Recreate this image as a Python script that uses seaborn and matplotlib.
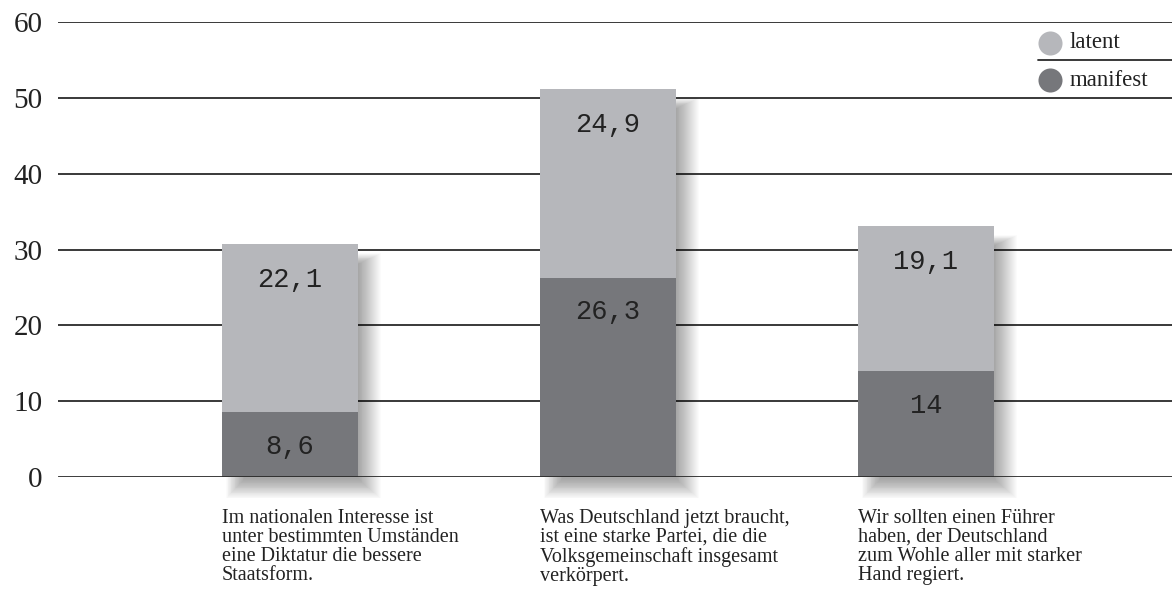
import matplotlib
matplotlib.use("Agg")
import matplotlib.pyplot as plt
import seaborn as sns
import pandas as pd
import numpy as np

# ---- data ----
categories = [
    "Im nationalen Interesse ist\nunter bestimmten Umständen\neine Diktatur die bessere\nStaatsform.",
    "Was Deutschland jetzt braucht,\nist eine starke Partei, die die\nVolksgemeinschaft insgesamt\nverkörpert.",
    "Wir sollten einen Führer\nhaben, der Deutschland\nzum Wohle aller mit starker\nHand regiert.",
]
manifest = [8.6, 26.3, 14.0]
latent = [22.1, 24.9, 19.1]
manifest_labels = ["8,6", "26,3", "14"]
latent_labels = ["22,1", "24,9", "19,1"]
yticks = [0, 10, 20, 30, 40, 50, 60]
series_names = ["latent", "manifest"]

C_LAT = "#b6b7bb"
C_MAN = "#76777b"
TXT = "#222222"

sns.set_theme(style="white")
plt.rcParams["font.family"] = ["Liberation Serif", "DejaVu Serif"]

df = pd.DataFrame({
    "cat": [f"c{i}" for i in range(len(categories))],
    "manifest": manifest,
    "latent": latent,
})
df["total"] = df["manifest"] + df["latent"]

fig = plt.figure(figsize=(11.72, 5.92), dpi=100)
ax = fig.add_axes([58 / 1172, 115 / 592, 1114 / 1172, 455 / 592])

W = 0.428

# soft drop shadows (derived from data)
x = np.arange(len(df))
N = 24
for k in range(N):
    left = x - W / 2 + 0.07 - k * 0.0025
    right = x + W / 2 + 0.002 + k * 0.003
    bottom = -0.3 - k * 0.11
    top = df["total"].values - 2.6 + k * 0.06
    ax.bar(left, top - bottom, width=right - left, bottom=bottom, align="edge",
           color="black", alpha=0.015, linewidth=0, zorder=2, clip_on=False)

sns.barplot(data=df, x="cat", y="total", color=C_LAT, width=W, ax=ax,
            saturation=1, linewidth=0, zorder=3)
sns.barplot(data=df, x="cat", y="manifest", color=C_MAN, width=W, ax=ax,
            saturation=1, linewidth=0, zorder=4)

# value labels
for i in range(len(df)):
    ax.annotate(latent_labels[i], (i, df["total"][i]), xytext=(0, -26),
                textcoords="offset points", ha="center", va="center",
                fontsize=19.5, family="Liberation Mono", color=TXT, zorder=6)
    ax.annotate(manifest_labels[i], (i, df["manifest"][i]), xytext=(0, -25),
                textcoords="offset points", ha="center", va="center",
                fontsize=19.5, family="Liberation Mono", color=TXT, zorder=6)

ax.set_xlim(-0.7296, 2.774)
ax.set_ylim(0, 60)
ax.set_yticks(yticks)
ax.set_yticklabels([str(t) for t in yticks], fontsize=21, color=TXT)
ax.tick_params(axis="y", length=0, pad=11)
ax.set_xticks([])
ax.set_xlabel("")
ax.set_ylabel("")
for s in ax.spines.values():
    s.set_visible(False)

for t in yticks[1:]:
    ax.axhline(t, color="#2a2a2a", linewidth=1.3, zorder=1)
ax.axhline(0, color="#2a2a2a", linewidth=2.0, zorder=5)

# category labels
for i, c in enumerate(categories):
    ax.text(i - W / 2, -4.2, c, ha="left", va="top", fontsize=14.5,
            color=TXT, linespacing=1.0, clip_on=False)

# legend
ax.axhline(55, xmin=(1038 - 58) / 1114, xmax=1.0, color="#2a2a2a",
           linewidth=1.3, zorder=1)
for name, col, yy in [(series_names[0], C_LAT, 0.954), (series_names[1], C_MAN, 0.8725)]:
    ax.scatter([0.8905], [yy], s=300, color=col, transform=ax.transAxes,
               zorder=7, linewidths=0, clip_on=False)
    ax.text(0.9084, yy, name, transform=ax.transAxes, ha="left", va="center",
            fontsize=16.5, color=TXT)

fig.savefig("out.png", dpi=100)
